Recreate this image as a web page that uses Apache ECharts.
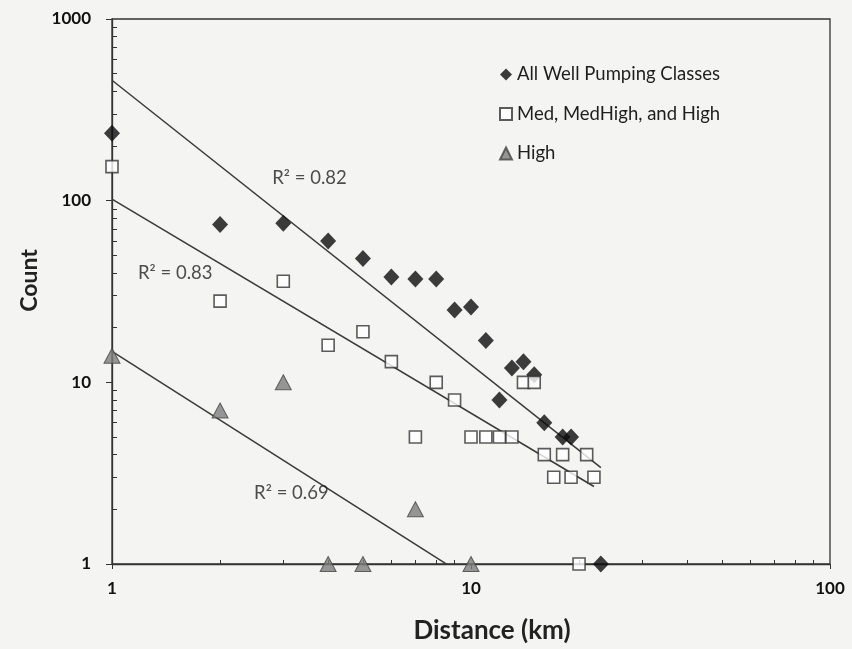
<!DOCTYPE html>
<html><head><meta charset="utf-8">
<script src="https://cdn.jsdelivr.net/npm/echarts@6/dist/echarts.min.js"></script>
<style>html,body{margin:0;padding:0;background:#f4f4f2;}#c{width:852px;height:649px;}</style>
</head><body><div id="c"></div>
<script>
// ---- data ----
const allX = [1, 2, 3, 4, 5, 6, 7, 8, 9, 10, 11, 12, 13, 14, 15, 16, 18, 19, 23];
const allY = [235, 74, 75, 60, 48, 38, 37, 37, 25, 26, 17, 8, 12, 13, 11, 6, 5, 5, 1];
const medX = [1, 2, 3, 4, 5, 6, 7, 8, 9, 10, 11, 12, 13, 14, 15, 16, 17, 18, 19, 20, 21, 22];
const medY = [154, 28, 36, 16, 19, 13, 5, 10, 8, 5, 5, 5, 5, 10, 10, 4, 3, 4, 3, 1, 4, 3];
const highX = [1, 2, 3, 4, 5, 7, 10];
const highY = [14, 7, 10, 1, 1, 2, 1];
// trend line end points
const trendAllX = [1, 23];   const trendAllY = [460, 3.39];
const trendMedX = [1, 22];   const trendMedY = [102, 2.67];
const trendHighX = [1, 10];  const trendHighY = [14.8, 0.82];
// R² annotations
const r2Text = ['R² = 0.82', 'R² = 0.83', 'R² = 0.69'];
const r2X = [3.55, 1.5, 3.16];
const r2Y = [133, 40, 2.46];
// axis ticks
const xMinor = [2,3,4,5,6,7,8,9,20,30,40,50,60,70,80,90];
const yMinor = [2,3,4,5,6,7,8,9,20,30,40,50,60,70,80,90,200,300,400,500,600,700,800,900];
const seriesNames = ['All Well Pumping Classes', 'Med, MedHigh, and High', 'High'];

const zip = (a, b) => a.map((v, i) => [v, b[i]]);
const FONT = 'Lato';
const AX = '#333';

const chart = echarts.init(document.getElementById('c'), null, {renderer: 'canvas'});
chart.setOption({
  backgroundColor: '#f4f4f2',
  animation: false,
  grid: {left: 112, right: 22, top: 19, bottom: 85, show: true, borderColor: AX, borderWidth: 1.3, backgroundColor: 'transparent'},
  legend: {
    data: seriesNames, orient: 'vertical', left: 494, top: 60,
    itemWidth: 12, itemHeight: 12, itemGap: 20.5,
    textStyle: {fontSize: 18.5, fontFamily: FONT, color: '#1e1e1e'}
  },
  xAxis: [
    {type: 'log', logBase: 10, min: 1, max: 100, position: 'bottom',
     axisLine: {lineStyle: {color: AX, width: 1.3}},
     axisTick: {show: true, inside: false, length: 5, lineStyle: {color: AX}},
     axisLabel: {margin: 16, fontSize: 17, fontWeight: 'bold', color: '#111', fontFamily: FONT},
     splitLine: {show: false},
     name: 'Distance (km)', nameLocation: 'middle', nameGap: 54,
     nameTextStyle: {fontSize: 26, fontWeight: 'bold', fontFamily: FONT, color: '#222', padding: [0, 0, 0, 42]}},
    {type: 'log', logBase: 10, min: 1, max: 100, position: 'bottom',
     axisLine: {show: false},
     axisTick: {show: true, inside: true, length: 4, customValues: xMinor, lineStyle: {color: AX}},
     axisLabel: {show: false}, splitLine: {show: false}}
  ],
  yAxis: [
    {type: 'log', logBase: 10, min: 1, max: 1000, position: 'left',
     axisLine: {show: true, lineStyle: {color: AX, width: 1.3}},
     axisTick: {show: true, inside: false, length: 6, lineStyle: {color: AX}},
     axisLabel: {margin: 21, fontSize: 17, fontWeight: 'bold', color: '#111', fontFamily: FONT,
                 formatter: v => String(Math.round(v))},
     splitLine: {show: false},
     name: 'Count', nameLocation: 'middle', nameGap: 70, nameRotate: 90,
     nameTextStyle: {fontSize: 23, fontWeight: 'bold', fontFamily: FONT, color: '#222', padding: [0, 0, 0, 22]}},
    {type: 'log', logBase: 10, min: 1, max: 1000, position: 'left',
     axisLine: {show: false},
     axisTick: {show: true, inside: true, length: 5, customValues: yMinor, lineStyle: {color: AX}},
     axisLabel: {show: false}, splitLine: {show: false}}
  ],
  series: [
    {name: 'trendAll', type: 'line', data: zip(trendAllX, trendAllY), showSymbol: false, silent: true,
     lineStyle: {color: '#3a3a3a', width: 1.5}, z: 1},
    {name: 'trendMed', type: 'line', data: zip(trendMedX, trendMedY), showSymbol: false, silent: true,
     lineStyle: {color: '#3a3a3a', width: 1.5}, z: 1},
    {name: 'trendHigh', type: 'line', data: zip(trendHighX, trendHighY), showSymbol: false, silent: true, clip: true,
     lineStyle: {color: '#3a3a3a', width: 1.5}, z: 1},
    {name: seriesNames[0], type: 'scatter', data: zip(allX, allY), symbol: 'diamond', symbolSize: [16, 17],
     itemStyle: {color: '#0d0d0d'}, z: 3},
    {name: seriesNames[1], type: 'scatter', data: zip(medX, medY), symbol: 'rect', symbolSize: 12,
     itemStyle: {color: '#ffffff', borderColor: '#333', borderWidth: 1.6}, z: 4},
    {name: seriesNames[2], type: 'scatter', data: zip(highX, highY), symbol: 'triangle', symbolSize: [16, 15],
     itemStyle: {color: '#7d7d7d', borderColor: '#444', borderWidth: 1}, z: 4},
    {name: 'r2', type: 'scatter', symbolSize: 0, silent: true,
     data: r2Text.map((t, i) => ({name: t, value: [r2X[i], r2Y[i]]})),
     label: {show: true, position: 'inside', formatter: p => p.name, fontSize: 18.5, fontFamily: FONT, color: '#222'}, z: 5}
  ]
});
</script></body></html>
